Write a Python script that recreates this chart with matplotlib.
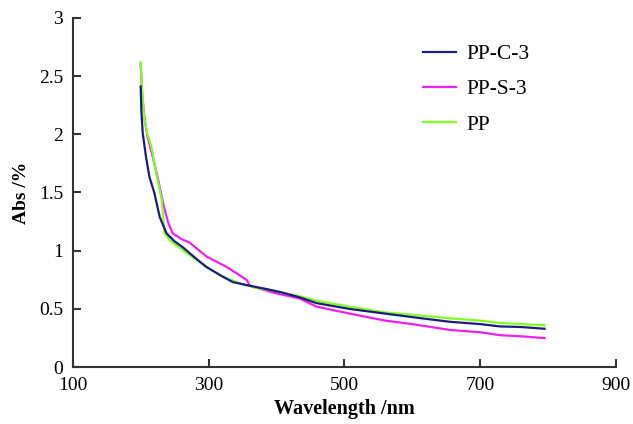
import matplotlib
matplotlib.use('Agg')
import matplotlib.pyplot as plt

# 数据
wl_c3 = [200, 201, 203, 208, 213, 220, 228, 238, 250, 262, 280, 297, 320, 336, 360, 386,
         409, 434, 459, 508, 560, 600, 655, 700, 729, 760, 795]
abs_c3 = [2.41, 2.20, 2.01, 1.80, 1.63, 1.50, 1.29, 1.15, 1.08, 1.03, 0.94, 0.86, 0.78, 0.73,
          0.70, 0.67, 0.64, 0.60, 0.55, 0.50, 0.46, 0.43, 0.39, 0.37, 0.35, 0.345, 0.33]

wl_s3 = [200, 202, 206, 210, 218, 225, 233, 240, 247, 260, 272, 297, 327, 356, 361, 395,
         434, 459, 508, 560, 600, 655, 700, 729, 760, 795]
abs_s3 = [2.60, 2.35, 2.12, 1.98, 1.80, 1.63, 1.41, 1.25, 1.15, 1.10, 1.07, 0.95, 0.86, 0.75,
          0.70, 0.64, 0.59, 0.52, 0.46, 0.40, 0.37, 0.32, 0.30, 0.275, 0.265, 0.25]

wl_pp = [200, 202, 205, 210, 216, 224, 231, 235, 243, 247, 268, 297, 320, 346, 370, 395,
         409, 434, 459, 508, 560, 600, 655, 700, 729, 760, 795]
abs_pp = [2.62, 2.40, 2.15, 2.00, 1.89, 1.63, 1.44, 1.15, 1.09, 1.07, 0.98, 0.86, 0.78, 0.72,
          0.68, 0.66, 0.64, 0.61, 0.57, 0.52, 0.47, 0.45, 0.42, 0.40, 0.38, 0.37, 0.36]

x_ticks = [100, 300, 500, 700, 900]
y_ticks = [0, 0.5, 1, 1.5, 2, 2.5, 3]
y_ticklabels = ['0', '0.5', '1', '1.5', '2', '2.5', '3']

plt.rcParams['font.family'] = ['Liberation Serif', 'DejaVu Serif']

fig = plt.figure(figsize=(6.33, 4.24), dpi=100)
ax = fig.add_axes([0.115, 0.134, 0.858, 0.824])

ax.plot(wl_c3, abs_c3, color='#1c1c80', lw=1.6, label='PP-C-3', zorder=4)
ax.plot(wl_s3, abs_s3, color='#ee22ee', lw=1.6, label='PP-S-3', zorder=2)
ax.plot(wl_pp, abs_pp, color='#80ff20', lw=1.6, label='PP', zorder=3)

ax.set_xlim(100, 900)
ax.set_ylim(0, 3)
ax.set_xticks(x_ticks)
ax.set_yticks(y_ticks)
ax.set_yticklabels(y_ticklabels)

for s in ['top', 'right']:
    ax.spines[s].set_visible(False)
for s in ['left', 'bottom']:
    ax.spines[s].set_color('#333333')
    ax.spines[s].set_linewidth(1.5)

ax.tick_params(direction='in', length=6, width=1.5, color='#333333', labelsize=14)
ax.tick_params(axis='x', pad=7)
ax.tick_params(axis='y', pad=7)

ax.set_xlabel('Wavelength /nm', fontsize=14.5, fontweight='bold', labelpad=4)
ax.set_ylabel('Abs /%', fontsize=14, fontweight='bold', labelpad=6)

ax.legend(loc='upper left', bbox_to_anchor=(0.61, 0.98), frameon=False,
          fontsize=15.5, handlelength=1.5, handletextpad=0.5, labelspacing=0.7)

plt.savefig('out.png', dpi=100)
plt.close()
